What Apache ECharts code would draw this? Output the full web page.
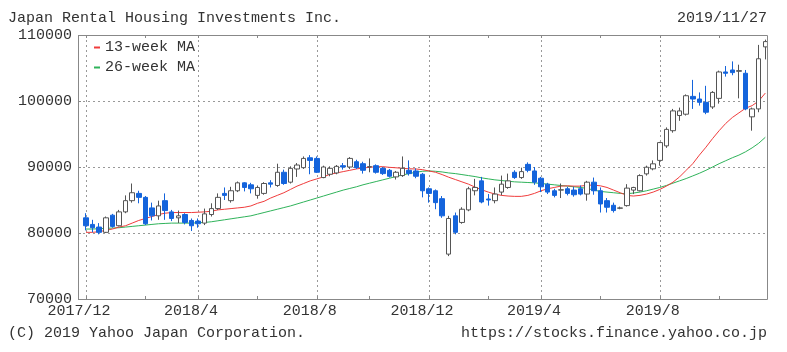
<!DOCTYPE html>
<html><head><meta charset="utf-8">
<script src="https://cdn.jsdelivr.net/npm/echarts@6/dist/echarts.min.js"></script>
<style>html,body{margin:0;padding:0;background:#fff}#c{width:787px;height:352px}</style>
</head><body><div id="c"></div>
<script>
const dates = [
'2017/12/04','2017/12/11','2017/12/18','2017/12/25',
'2018/01/01','2018/01/08','2018/01/15','2018/01/22','2018/01/29',
'2018/02/05','2018/02/12','2018/02/19','2018/02/26',
'2018/03/05','2018/03/12','2018/03/19','2018/03/26',
'2018/04/02','2018/04/09','2018/04/16','2018/04/23','2018/04/30',
'2018/05/07','2018/05/14','2018/05/21','2018/05/28',
'2018/06/04','2018/06/11','2018/06/18','2018/06/25',
'2018/07/02','2018/07/09','2018/07/16','2018/07/23','2018/07/30',
'2018/08/06','2018/08/13','2018/08/20','2018/08/27',
'2018/09/03','2018/09/10','2018/09/17','2018/09/24',
'2018/10/01','2018/10/08','2018/10/15','2018/10/22','2018/10/29',
'2018/11/05','2018/11/12','2018/11/19','2018/11/26',
'2018/12/03','2018/12/10','2018/12/17','2018/12/24','2018/12/31',
'2019/01/07','2019/01/14','2019/01/21','2019/01/28',
'2019/02/04','2019/02/11','2019/02/18','2019/02/25',
'2019/03/04','2019/03/11','2019/03/18','2019/03/25',
'2019/04/01','2019/04/08','2019/04/15','2019/04/22','2019/04/29',
'2019/05/06','2019/05/13','2019/05/20','2019/05/27',
'2019/06/03','2019/06/10','2019/06/17','2019/06/24',
'2019/07/01','2019/07/08','2019/07/15','2019/07/22','2019/07/29',
'2019/08/05','2019/08/12','2019/08/19','2019/08/26',
'2019/09/02','2019/09/09','2019/09/16','2019/09/23','2019/09/30',
'2019/10/07','2019/10/14','2019/10/21','2019/10/28',
'2019/11/04','2019/11/11','2019/11/18','2019/11/25'];

const openV = [82300,81300,80900,80100,82700,81100,83200,84900,86000,85400,
83800,82600,84900,83200,82300,82800,81900,81800,81500,82800,
83700,86000,84900,86400,87600,87300,85700,86000,87600,87200,
89200,87700,89700,89900,91400,91300,88400,88900,89100,90200,
90000,90800,90500,90000,90200,89800,89500,88500,88700,89500,
89400,88900,86700,86400,85200,76800,82600,81600,83500,86400,
87900,85150,84900,86200,86900,89200,88400,90400,89400,88300,
87400,86400,86500,86700,86500,86700,85900,87700,86400,84900,
84200,83750,84150,86500,86400,88960,89720,91000,93200,95500,
97800,98000,100700,100300,99800,99100,100400,104400,104700,104500,
104200,97600,98800,108200];
const closeV = [81100,80800,80100,82300,81000,83200,84900,86100,85400,81400,
82600,84100,83400,82200,82600,81600,81100,81400,82900,83700,
85400,85700,86400,87600,86900,86700,86900,87500,87400,89200,
87500,89800,90300,91300,91000,89200,90000,89800,90100,90000,
91300,89900,89500,90050,89200,89000,88600,89200,89800,89000,
88600,86400,86000,84600,82600,82200,80100,83600,86700,86900,
84700,85000,85900,87400,87900,88400,89300,89500,87700,87000,
86200,85700,86550,86000,85800,85900,87700,86400,84400,83900,
83400,83800,86800,86900,88700,89970,90480,93700,95700,98500,
98500,100800,100300,99800,98300,101300,104400,104200,104300,104600,
98800,98800,106400,109000];
const lowV = [80400,80100,79800,80000,80800,81000,83000,84600,84500,81200,
81900,82000,82000,81800,81500,81300,80300,80800,81200,82500,
83500,85000,84600,86200,86300,86000,85200,85800,86900,87000,
87300,87500,88500,89700,88900,89100,88300,88600,88900,89600,
89700,89700,89000,89200,89000,88800,88400,88100,88500,88700,
88300,85400,84600,83600,82300,76500,79800,81400,83300,85700,
84500,84150,84500,85700,86700,88200,88200,89200,87300,86200,
85900,85400,85300,85700,85500,85700,84900,85800,83100,83100,
83100,83600,84000,85900,86300,88700,89500,90200,92900,95200,
97000,97800,98800,99300,98000,98800,99600,103700,103900,100400,
98600,95500,98300,106300];
const highV = [83000,82000,81500,82500,82900,83500,85700,87500,86400,85600,
84600,84900,86000,83500,83400,83000,82200,82200,83700,84500,
86000,86900,87000,87800,87700,87600,87200,87700,88000,90500,
89600,90100,90600,91600,91800,91600,90200,90100,90300,90600,
91500,91100,90800,91300,90400,90000,89700,89400,91600,91000,
89800,89100,86900,86600,85600,82600,83100,83900,87000,88200,
88500,85900,86900,88700,89000,89500,89900,90700,90000,88500,
87600,86700,87500,87000,87000,87200,87900,88400,86900,85300,
84600,84000,87400,87000,88900,90200,91000,93800,96000,98800,
99000,101000,103200,101300,102300,101500,104600,105300,106000,105500,
104700,99000,108500,109300];

const ma13 = [80100,80100,80200,80400,80600,80900,81100,81500,81900,82200,
82500,82800,83000,83100,83100,83100,83100,83150,83200,83300,
83500,83600,83700,83800,83900,84100,84500,84800,85300,85700,
86100,86600,87100,87500,87900,88200,88500,88900,89100,89300,
89500,89700,89850,89950,90050,90050,89950,89880,89800,89730,
89700,89600,89400,89200,88850,88450,88100,87750,87400,86950,
86550,86200,85900,85700,85600,85550,85550,85700,86000,86400,
86700,86900,87100,87150,87100,87100,87250,87250,87150,86900,
86500,86100,85700,85600,85700,85900,86200,86600,87100,87700,
88500,89500,90500,91800,93000,94300,95500,96600,97500,98200,
98900,99300,100000,101200];
const ma26 = [80600,80600,80650,80700,80750,80800,80900,81000,81100,81200,
81300,81400,81450,81500,81500,81500,81500,81550,81600,81700,
81850,82000,82150,82300,82450,82600,82850,83100,83350,83600,
83850,84100,84400,84700,85000,85300,85600,85900,86200,86500,
86750,87000,87300,87550,87800,88050,88300,88550,88800,89000,
89200,89350,89400,89350,89250,89100,89000,88850,88700,88550,
88350,88200,88050,87950,87850,87750,87700,87650,87600,87500,
87400,87300,87200,87100,87000,86900,86750,86500,86300,86200,
86100,86000,85950,86050,86200,86400,86650,86900,87200,87550,
87900,88250,88650,89050,89500,90000,90500,90950,91400,91800,
92300,92900,93600,94500];

const gridDates = ['2017/12/04','2018/04/02','2018/08/06','2018/12/03','2019/04/01','2019/08/05'];
const gridLabels = ['2017/12','2018/4','2018/8','2018/12','2019/4','2019/8'];
const tickDates = ['2017/12/04','2018/02/05','2018/04/02','2018/06/04','2018/08/06','2018/10/01',
'2018/12/03','2019/02/04','2019/04/01','2019/06/03','2019/08/05','2019/10/07'];

const FONT = 'Liberation Mono';
const txt = {fontFamily: FONT, fontSize: 15, color: '#333', fontWeight: 'normal'};
const candles = dates.map((d, i) => [openV[i], closeV[i], lowV[i], highV[i]]);
const isGrid = (idx, v) => gridDates.indexOf(v) >= 0;
const isTick = (idx, v) => tickDates.indexOf(v) >= 0;

const chart = echarts.init(document.getElementById('c'), null, {renderer: 'canvas'});
chart.setOption({
  animation: false,
  backgroundColor: '#fff',
  title: [
    {text: 'Japan Rental Housing Investments Inc.', left: 8, top: 11, padding: 0, textStyle: txt},
    {text: '2019/11/27', right: 20, top: 11, padding: 0, textStyle: txt},
    {text: '(C) 2019 Yahoo Japan Corporation.', left: 8, top: 326, padding: 0, textStyle: txt},
    {text: 'https://stocks.finance.yahoo.co.jp', right: 20, top: 326, padding: 0, textStyle: txt}
  ],
  legend: {
    orient: 'vertical', left: 94, top: 40, padding: 0, itemWidth: 6, itemHeight: 2, itemGap: 5,
    icon: 'rect', textStyle: {fontFamily: FONT, fontSize: 15, color: '#333'},
    data: ['13-week MA', '26-week MA']
  },
  grid: [
    {left: 78, right: 20, top: 35, bottom: 53},
    {left: 86, right: 21.7, top: 35, bottom: 53}
  ],
  xAxis: [
    {type: 'value', gridIndex: 0, min: 0, max: 1, show: false},
    {type: 'category', gridIndex: 1, data: dates, boundaryGap: false,
     axisLine: {show: false},
     axisTick: {show: true, inside: true, length: 3, interval: isTick, lineStyle: {color: '#888'}},
     axisLabel: {interval: isGrid, margin: 5, padding: [0, 14, 0, 0], ...txt,
       formatter: v => gridLabels[gridDates.indexOf(v)]},
     splitLine: {show: true, interval: isGrid, lineStyle: {color: '#999', type: [2, 3]}}},
    {type: 'category', gridIndex: 1, data: dates, boundaryGap: false, position: 'top',
     axisLine: {show: false},
     axisTick: {show: true, inside: true, length: 3, interval: isTick, lineStyle: {color: '#888'}},
     axisLabel: {show: false}, splitLine: {show: false}}
  ],
  yAxis: [
    {type: 'value', gridIndex: 0, min: 70000, max: 110000, interval: 10000,
     axisLine: {show: false},
     axisTick: {show: true, inside: true, length: 3, lineStyle: {color: '#888'}},
     axisLabel: {margin: 6, ...txt, formatter: v => String(v)},
     splitLine: {show: true, lineStyle: {color: '#999', type: [2, 3]}}},
    {type: 'value', gridIndex: 1, min: 70000, max: 110000, show: false}
  ],
  graphic: [{
    type: 'rect', z: 100, silent: true,
    shape: {x: 78.5, y: 35.5, width: 689, height: 264},
    style: {fill: 'none', stroke: '#888', lineWidth: 1}
  }],
  series: [
    {name: '26-week MA', type: 'line', xAxisIndex: 1, yAxisIndex: 1, data: ma26,
     showSymbol: false, symbol: 'none', lineStyle: {color: '#2fb35a', width: 1}, itemStyle: {color: '#2fb35a'}, z: 3},
    {name: '13-week MA', type: 'line', xAxisIndex: 1, yAxisIndex: 1, data: ma13,
     showSymbol: false, symbol: 'none', lineStyle: {color: '#f03c3c', width: 1}, itemStyle: {color: '#f03c3c'}, z: 3},
    {name: 'price', type: 'candlestick', xAxisIndex: 1, yAxisIndex: 1, data: candles,
     barWidth: 5, clip: false, z: 4,
     itemStyle: {color: '#ffffff', color0: '#1464dc', borderColor: '#555555', borderColor0: '#1464dc', borderWidth: 1}}
  ]
});
</script></body></html>
